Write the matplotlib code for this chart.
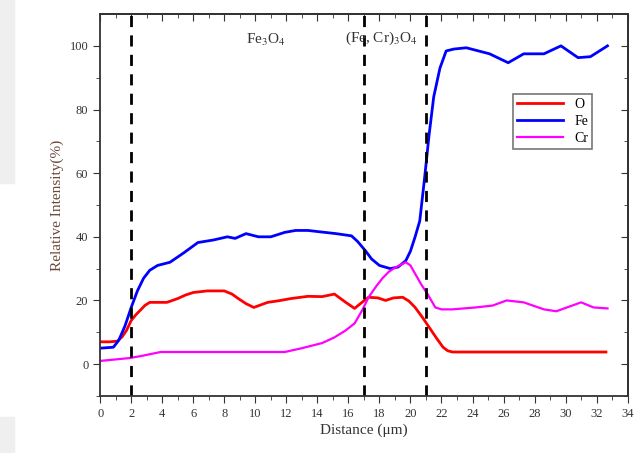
import numpy as np
import matplotlib
matplotlib.use('Agg')
import matplotlib.pyplot as plt
from matplotlib.patches import Rectangle

plt.rcParams['font.family'] = ['Liberation Serif', 'DejaVu Serif']
plt.rcParams['mathtext.fontset'] = 'stix'

# данные
x_o = [0, 0.6, 1.1, 1.4, 1.7, 2.0, 2.3, 2.6, 2.9, 3.2, 4.3, 5.0, 5.5, 6.0, 6.9, 8.0, 8.5,
       8.9, 9.4, 9.9, 10.8, 11.5, 12.3, 13.4, 14.3, 15.1, 15.8, 16.4, 16.9, 17.3, 17.9,
       18.4, 18.9, 19.5, 19.9, 20.3, 20.8, 21.2, 21.7, 22.1, 22.4, 22.7, 32.6]
y_o = [7, 7, 7.2, 8.5, 10.6, 13.7, 15.5, 17, 18.5, 19.4, 19.4, 20.6, 21.7, 22.5, 23, 23, 22,
       20.6, 19, 17.8, 19.4, 19.9, 20.6, 21.3, 21.2, 22, 19.5, 17.5, 19.5, 21, 20.8,
       20, 20.8, 21, 19.8, 17.8, 14.5, 11.6, 8, 5.3, 4.2, 3.8, 3.8]

x_fe = [0, 0.85, 1.2, 1.6, 2.0, 2.4, 2.8, 3.2, 3.7, 4.5, 5.4, 6.3, 7.3, 8.2, 8.7, 9.4, 10.2,
        11.0, 11.9, 12.6, 13.4, 14.1, 15.2, 16.2, 16.6, 17.1, 17.5, 18.0, 18.7, 19.2, 19.7,
        20.0, 20.3, 20.6, 20.9, 21.2, 21.5, 21.9, 22.3, 22.8, 23.6, 25.1, 26.3,
        27.3, 28.6, 29.7, 30.8, 31.6, 32.7]
y_fe = [5, 5.3, 7.5, 12, 17.8, 23, 27, 29.5, 31, 32, 35, 38.2, 39, 40, 39.5, 41, 40,
        40, 41.4, 42, 42, 41.6, 41, 40.3, 38.5, 35.6, 33, 31, 30, 30.5, 32.5,
        35.5, 40, 45, 58, 72, 84, 93, 98.4, 99, 99.4, 97.5, 94.7,
        97.5, 97.5, 100, 96.3, 96.6, 100]

x_cr = [0, 1.9, 2.6, 3.3, 3.9, 11.9, 13.0, 14.3, 15.1, 15.8, 16.4, 16.9, 17.3, 17.8, 18.2,
        18.6, 19.0, 19.4, 19.7, 20.0, 20.3, 20.7, 21.1, 21.4, 21.6, 22.0,
        22.7, 24.2, 25.3, 26.2, 27.3, 28.6, 29.4, 30.2, 31.0, 31.8, 32.7]
y_cr = [1, 1.9, 2.5, 3.2, 3.8, 3.8, 5, 6.6, 8.4, 10.5, 12.8, 17, 21, 24.5, 27,
        29, 30.3, 31.3, 32, 31, 28.4, 25, 22, 19.5, 17.8, 17.2,
        17.2, 17.8, 18.4, 20, 19.4, 17.2, 16.6, 18, 19.4, 17.8, 17.5]

boundaries = [2, 17, 21]

fig = plt.figure(figsize=(6.34, 4.53), dpi=100)
fig.patches.append(Rectangle((0, 0.596), 0.022, 0.404, transform=fig.transFigure,
                             color='#efefef', zorder=-1))
fig.patches.append(Rectangle((0, 0), 0.022, 0.08, transform=fig.transFigure,
                             color='#efefef', zorder=-1))
ax = fig.add_axes([0.158, 0.126, 0.832, 0.843])

ax.plot(x_o, y_o, color='#ff0000', lw=2, label='O')
ax.plot(x_fe, y_fe, color='#0000ff', lw=2, label='Fe')
ax.plot(x_cr, y_cr, color='#ff00ff', lw=1.6, label='Cr')
for b in boundaries:
    ax.axvline(b, color='black', lw=2, ls=(0, (4, 3)))

ax.text(10.7, 101.9, 'Fe$_3$O$_4$', ha='center', va='center', fontsize=11, color='#333333')
ax.text(15.8, 102.3, '(Fe, Cr)$_3$O$_4$', ha='left', va='center', fontsize=11, color='#333333')

ax.set_xlim(0, 34)
ax.set_ylim(-10, 110)
ax.set_xticks(np.arange(0, 35, 2))
ax.set_xticks(np.arange(1, 34, 2), minor=True)
ax.set_yticks(np.arange(0, 101, 20))
ax.set_yticks(np.arange(-10, 110, 20), minor=True)
ax.tick_params(which='both', direction='out', labelsize=9, colors='#333333')
ax.tick_params(which='major', length=5)
ax.tick_params(which='minor', length=3)
# зеркальные риски сверху и справа — внутрь
ax2 = ax.secondary_xaxis('top')
ax2.set_xticks(np.arange(0, 35, 2))
ax2.set_xticks(np.arange(1, 34, 2), minor=True)
ax2.tick_params(which='both', direction='in', labeltop=False, colors='#333333')
ax2.tick_params(which='major', length=5)
ax2.tick_params(which='minor', length=3)
ax3 = ax.secondary_yaxis('right')
ax3.set_yticks(np.arange(0, 101, 20))
ax3.set_yticks(np.arange(-10, 110, 20), minor=True)
ax3.tick_params(which='both', direction='in', labelright=False, colors='#333333')
ax3.tick_params(which='major', length=5)
ax3.tick_params(which='minor', length=3)
for a in (ax, ax2, ax3):
    for s in a.spines.values():
        s.set_linewidth(1.3)
        s.set_color('#333333')

ax.set_xlabel('Distance (μm)', fontsize=11, color='#333333', labelpad=3)
ax.set_ylabel('Relative Intensity(%)', fontsize=11, color='#6b4a3a', labelpad=4)

leg = ax.legend(loc='upper left', bbox_to_anchor=(0.77, 0.81), fontsize=10,
                frameon=True, fancybox=False, edgecolor='#555555', handlelength=3.3,
                borderpad=0.3, labelspacing=0.3)
leg.get_frame().set_linewidth(1.2)

fig.savefig('out.png', dpi=100)
